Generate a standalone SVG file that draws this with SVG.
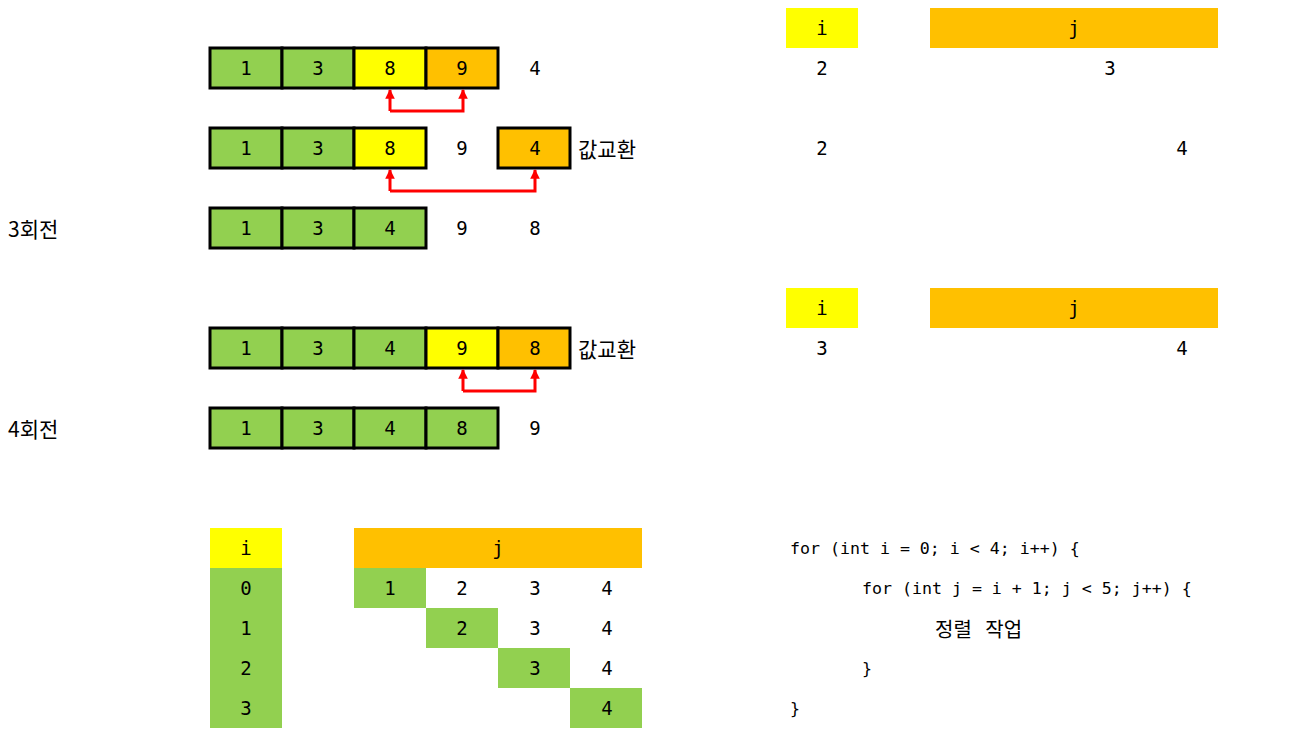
<svg xmlns="http://www.w3.org/2000/svg" width="1292" height="736" viewBox="0 0 1292 736">
<style>
.g{fill:#92d050}.y{fill:#ffff00}.o{fill:#ffc000}
.b{stroke:#000;stroke-width:3}
text{font-family:"DejaVu Sans Mono","Noto Sans CJK KR",monospace;font-size:19px;fill:#000;text-anchor:middle;dominant-baseline:central}
.k{font-family:"Noto Sans CJK KR",sans-serif;font-size:21px;text-anchor:start}
.c{font-size:16.6px;text-anchor:start}
.ck{font-family:"Noto Sans CJK KR",sans-serif;font-size:20px;text-anchor:start;word-spacing:9px}
.a{fill:none;stroke:#ff0000;stroke-width:3}
</style>
<defs>
<marker id="ah" viewBox="0 0 10 10" refX="9" refY="5" markerWidth="3.2" markerHeight="3.2" orient="auto" markerUnits="strokeWidth">
<path d="M0,0L10,5L0,10z" fill="#ff0000"/>
</marker>
</defs>
<rect width="1292" height="736" fill="#fff"/>

<g id="row1">
<rect x="210" y="48" width="72" height="40" class="g b"/>
<rect x="282" y="48" width="72" height="40" class="g b"/>
<rect x="354" y="48" width="72" height="40" class="y b"/>
<rect x="426" y="48" width="72" height="40" class="o b"/>
<text x="246" y="68">1</text><text x="318" y="68">3</text><text x="390" y="68">8</text><text x="462" y="68">9</text><text x="535" y="68">4</text>
</g>

<g id="row2">
<rect x="210" y="128" width="72" height="40" class="g b"/>
<rect x="282" y="128" width="72" height="40" class="g b"/>
<rect x="354" y="128" width="72" height="40" class="y b"/>
<rect x="498" y="128" width="72" height="40" class="o b"/>
<text x="246" y="148">1</text><text x="318" y="148">3</text><text x="390" y="148">8</text><text x="462" y="148">9</text><text x="535" y="148">4</text>
<text x="578" y="148" class="k">값교환</text>
</g>

<g id="row3">
<rect x="210" y="208" width="72" height="40" class="g b"/>
<rect x="282" y="208" width="72" height="40" class="g b"/>
<rect x="354" y="208" width="72" height="40" class="g b"/>
<text x="246" y="228">1</text><text x="318" y="228">3</text><text x="390" y="228">4</text><text x="462" y="228">9</text><text x="535" y="228">8</text>
<text x="8" y="228" class="k">3회전</text>
</g>

<g id="row4">
<rect x="210" y="328" width="72" height="40" class="g b"/>
<rect x="282" y="328" width="72" height="40" class="g b"/>
<rect x="354" y="328" width="72" height="40" class="g b"/>
<rect x="426" y="328" width="72" height="40" class="y b"/>
<rect x="498" y="328" width="72" height="40" class="o b"/>
<text x="246" y="348">1</text><text x="318" y="348">3</text><text x="390" y="348">4</text><text x="462" y="348">9</text><text x="535" y="348">8</text>
<text x="578" y="348" class="k">값교환</text>
</g>

<g id="row5">
<rect x="210" y="408" width="72" height="40" class="g b"/>
<rect x="282" y="408" width="72" height="40" class="g b"/>
<rect x="354" y="408" width="72" height="40" class="g b"/>
<rect x="426" y="408" width="72" height="40" class="g b"/>
<text x="246" y="428">1</text><text x="318" y="428">3</text><text x="390" y="428">4</text><text x="462" y="428">8</text><text x="535" y="428">9</text>
<text x="8" y="428" class="k">4회전</text>
</g>

<g id="connectors">
<path d="M390,111V90" class="a" marker-end="url(#ah)"/>
<path d="M390,111H463V90" class="a" marker-end="url(#ah)"/>
<path d="M390,191V170" class="a" marker-end="url(#ah)"/>
<path d="M390,191H535V170" class="a" marker-end="url(#ah)"/>
<path d="M463,391V370" class="a" marker-end="url(#ah)"/>
<path d="M463,391H535V370" class="a" marker-end="url(#ah)"/>
</g>

<g id="ij1">
<rect x="786" y="8" width="72" height="40" class="y"/>
<rect x="930" y="8" width="288" height="40" class="o"/>
<text x="822" y="28">i</text><text x="1074" y="28">j</text>
<text x="822" y="68">2</text><text x="1110" y="68">3</text>
<text x="822" y="148">2</text><text x="1182" y="148">4</text>
</g>

<g id="ij2">
<rect x="786" y="288" width="72" height="40" class="y"/>
<rect x="930" y="288" width="288" height="40" class="o"/>
<text x="822" y="308">i</text><text x="1074" y="308">j</text>
<text x="822" y="348">3</text><text x="1182" y="348">4</text>
</g>

<g id="table">
<rect x="210" y="528" width="72" height="40" class="y"/>
<rect x="210" y="568" width="72" height="160" class="g"/>
<rect x="354" y="528" width="288" height="40" class="o"/>
<rect x="354" y="568" width="72" height="40" class="g"/>
<rect x="426" y="608" width="72" height="40" class="g"/>
<rect x="498" y="648" width="72" height="40" class="g"/>
<rect x="570" y="688" width="72" height="40" class="g"/>
<text x="246" y="548">i</text><text x="498" y="548">j</text>
<text x="246" y="588">0</text><text x="246" y="628">1</text><text x="246" y="668">2</text><text x="246" y="708">3</text>
<text x="390" y="588">1</text><text x="462" y="588">2</text><text x="535" y="588">3</text><text x="607" y="588">4</text>
<text x="462" y="628">2</text><text x="535" y="628">3</text><text x="607" y="628">4</text>
<text x="535" y="668">3</text><text x="607" y="668">4</text>
<text x="607" y="708">4</text>
</g>

<g id="code">
<text x="790" y="548" class="c">for (int i = 0; i &lt; 4; i++) {</text>
<text x="862" y="588" class="c">for (int j = i + 1; j &lt; 5; j++) {</text>
<text x="935" y="628" class="ck">정렬 작업</text>
<text x="862" y="668" class="c">}</text>
<text x="790" y="708" class="c">}</text>
</g>
</svg>
